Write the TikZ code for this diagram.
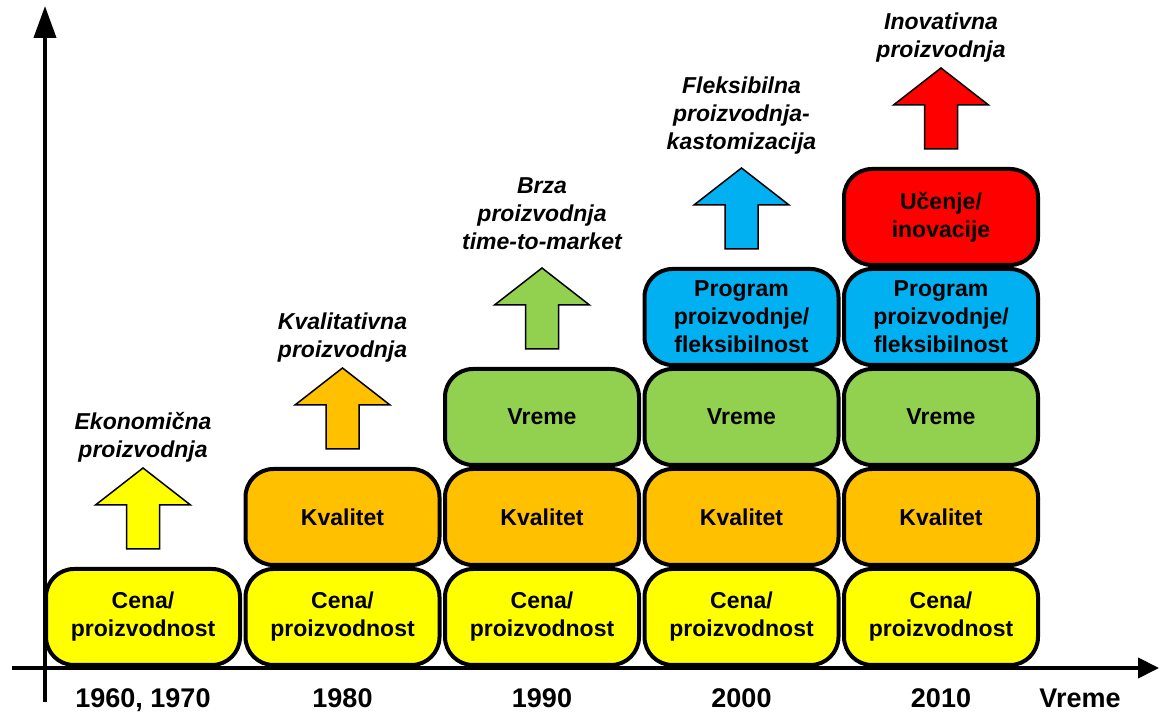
\documentclass[tikz,border=0pt]{standalone}
\usepackage{fontspec}
\setmainfont{Liberation Sans}
\usetikzlibrary{positioning,arrows.meta}
\definecolor{cyel}{HTML}{FFFF00}
\definecolor{corg}{HTML}{FFC000}
\definecolor{cgrn}{HTML}{92D050}
\definecolor{cblu}{HTML}{00B0F0}
\definecolor{cred}{HTML}{FF0000}
\begin{document}
\begin{tikzpicture} [
   x=1pt, y=1pt, node distance=0pt,
   box/.style={rectangle, rounded corners=28pt, draw, line width=4pt,
      minimum width=194pt, minimum height=96pt, inner sep=2pt, align=center,
      font=\bfseries\fontsize{23}{28}\selectfont},
   lab/.style={align=center, inner sep=0pt, font=\bfseries\itshape\fontsize{23}{28}\selectfont},
   yr/.style={anchor=base, inner sep=0pt, font=\bfseries\fontsize{27}{32}\selectfont},
   uparrow/.pic={\draw [line width=1.5pt, pic actions] (-16.5,0) -- (-16.5,44) -- (-47.5,44)
      -- (0,81) -- (47.5,44) -- (16.5,44) -- (16.5,0) -- cycle;
      \coordinate (-tip) at (0,81);}
]
   \useasboundingbox (0,0) rectangle (1160,714);
   % axes
   \coordinate (o) at (45,12);
   \coordinate (ytop) at (45,708);
   \coordinate (x0) at (12,46);
   \coordinate (xend) at (1159,46);
   \coordinate (yb) at (0,6);
   \draw [line width=4pt, -{Triangle[length=32pt,width=22pt]}] (o) -- (ytop);
   \draw [line width=4pt, -{Triangle[length=21pt,width=20pt]}] (x0) -- (xend);
   % bottom row
   \node (c1) [box, fill=cyel] at (143,97) {Cena/\\proizvodnost};
   \node (c2) [box, fill=cyel, right=1.5pt of c1] {Cena/\\proizvodnost};
   \node (c3) [box, fill=cyel, right=1.5pt of c2] {Cena/\\proizvodnost};
   \node (c4) [box, fill=cyel, right=1.5pt of c3] {Cena/\\proizvodnost};
   \node (c5) [box, fill=cyel, right=1.5pt of c4] {Cena/\\proizvodnost};
   % stacks
   \node (k2) [box, fill=corg, above=of c2] {Kvalitet};
   \node (k3) [box, fill=corg, above=of c3] {Kvalitet};
   \node (k4) [box, fill=corg, above=of c4] {Kvalitet};
   \node (k5) [box, fill=corg, above=of c5] {Kvalitet};
   \node (v3) [box, fill=cgrn, above=of k3] {Vreme};
   \node (v4) [box, fill=cgrn, above=of k4] {Vreme};
   \node (v5) [box, fill=cgrn, above=of k5] {Vreme};
   \node (p4) [box, fill=cblu, above=of v4] {Program\\proizvodnje/\\fleksibilnost};
   \node (p5) [box, fill=cblu, above=of v5] {Program\\proizvodnje/\\fleksibilnost};
   \node (u5) [box, fill=cred, above=of p5] {Učenje/\\inovacije};
   % arrows
   \pic (a1) [fill=cyel] at ([yshift=18pt]c1.north) {uparrow};
   \pic (a2) [fill=corg] at ([yshift=18pt]k2.north) {uparrow};
   \pic (a3) [fill=cgrn] at ([yshift=18pt]v3.north) {uparrow};
   \pic (a4) [fill=cblu] at ([yshift=18pt]p4.north) {uparrow};
   \pic (a5) [fill=cred] at ([yshift=18pt]u5.north) {uparrow};
   % labels
   \node (l1) [lab, above=6pt of a1-tip] {Ekonomična\\proizvodnja};
   \node (l2) [lab, above=6pt of a2-tip] {Kvalitativna\\proizvodnja};
   \node (l3) [lab, above=18pt of a3-tip] {Brza\\proizvodnja\\time-to-market};
   \node (l4) [lab, above=14pt of a4-tip] {Fleksibilna\\proizvodnja-\\kastomizacija};
   \node (l5) [lab, above=6pt of a5-tip] {Inovativna\\proizvodnja};
   % years
   \node (y1) [yr] at (c1 |- yb) {1960, 1970};
   \node (y2) [yr] at (c2 |- yb) {1980};
   \node (y3) [yr] at (c3 |- yb) {1990};
   \node (y4) [yr] at (c4 |- yb) {2000};
   \node (y5) [yr] at (c5 |- yb) {2010};
   \node (t) [yr] at (1080,6) {Vreme};
\end{tikzpicture}
\end{document}
